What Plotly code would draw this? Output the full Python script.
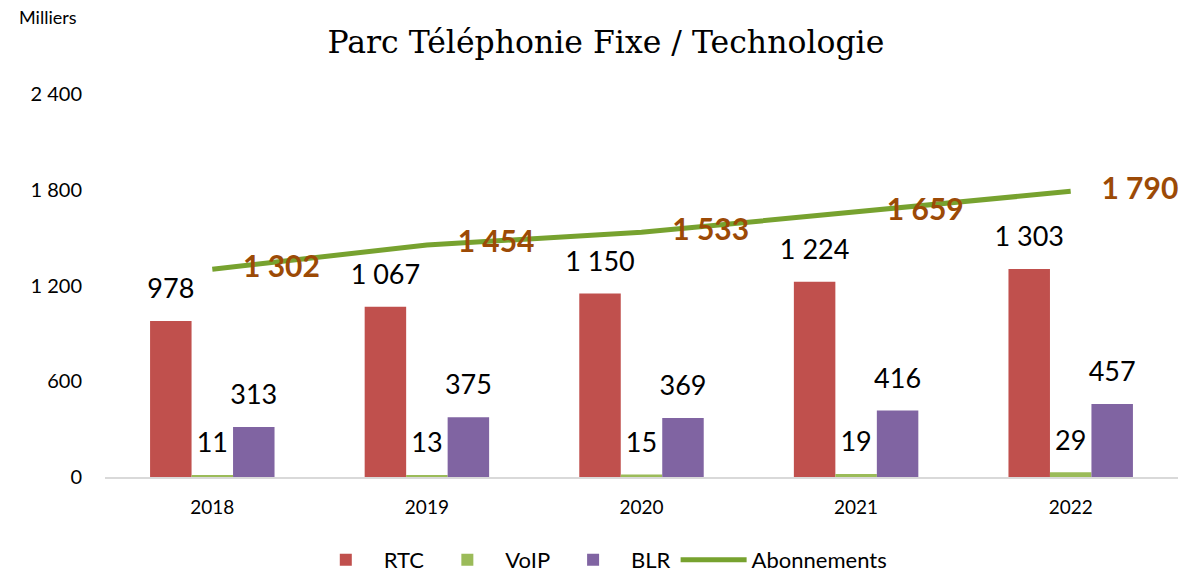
import plotly.graph_objects as go

years = ["2018", "2019", "2020", "2021", "2022"]
rtc = [978, 1067, 1150, 1224, 1303]
voip = [11, 13, 15, 19, 29]
blr = [313, 375, 369, 416, 457]
abonnements = [1302, 1454, 1533, 1659, 1790]
y_ticks = [0, 600, 1200, 1800, 2400]

lab_font = dict(family="Lato, 'Open Sans', sans-serif", size=27, color="black")

fig = go.Figure()
series = [("RTC", rtc, "#C0504D"), ("VoIP", voip, "#9BBB59"), ("BLR", blr, "#8064A2")]
for name, vals, col in series:
    fig.add_trace(go.Bar(
        x=years, y=vals, name=name, marker=dict(color=col, line=dict(width=0)),
        offsetgroup=name,
    ))
for name, vals, col in series:
    fig.add_trace(go.Scatter(
        x=years, y=vals, mode="markers+text", showlegend=False, hoverinfo="skip",
        marker=dict(size=24, opacity=0), offsetgroup=name,
        text=vals, texttemplate="%{y:,}", textposition="top center", textfont=lab_font,
        cliponaxis=False,
    ))
fig.add_trace(go.Scatter(
    x=years, y=abonnements, name="Abonnements", mode="lines+text", xaxis="x2",
    line=dict(color="#77A22F", width=5),
    text=abonnements, texttemplate="    <b>%{y:,}</b>", textposition="middle right",
    textfont=dict(family="Lato, 'Open Sans', sans-serif", size=30, color="#9C4A06"),
    cliponaxis=False,
))

fig.update_layout(
    width=1181, height=576,
    separators=", ",
    plot_bgcolor="white", paper_bgcolor="white",
    margin=dict(l=105, r=3, t=94, b=99),
    barmode="group", bargap=0.42, bargroupgap=0,
    scattermode="group", scattergap=0.42,
    title=dict(text="Parc Téléphonie Fixe / Technologie", x=0.513, xanchor="center", y=0.927, yanchor="middle",
               font=dict(family="'DejaVu Serif', 'Liberation Serif', serif", size=31.5, color="black")),
    font=dict(family="Lato, 'Open Sans', sans-serif", size=20, color="black"),
    legend=dict(orientation="h", x=0.189, xanchor="left", yref="container", y=0.028, yanchor="middle",
                font=dict(size=22), traceorder="normal", itemwidth=66),
    xaxis=dict(type="category", range=[-0.5, 4.5], showline=True, linecolor="#D9D9D9", linewidth=1.5,
               ticks="", tickfont=dict(size=19), showgrid=False, automargin=False, ticklabelstandoff=12),
    xaxis2=dict(type="category", range=[-0.5, 4.5], overlaying="x", visible=False, showgrid=False),
    yaxis=dict(range=[0, 2400], tickvals=y_ticks, tickformat=",", showgrid=False, zeroline=False,
               showline=False, tickfont=dict(size=20), ticklabelstandoff=22, automargin=False),
    annotations=[dict(text="Milliers", xref="paper", yref="paper", x=-0.082, y=1.201, xanchor="left",
                      yanchor="middle", showarrow=False, font=dict(size=18))],
)
fig.write_html("out.html", config={"displayModeBar": False},
               post_script="document.body.style.margin='0';")
